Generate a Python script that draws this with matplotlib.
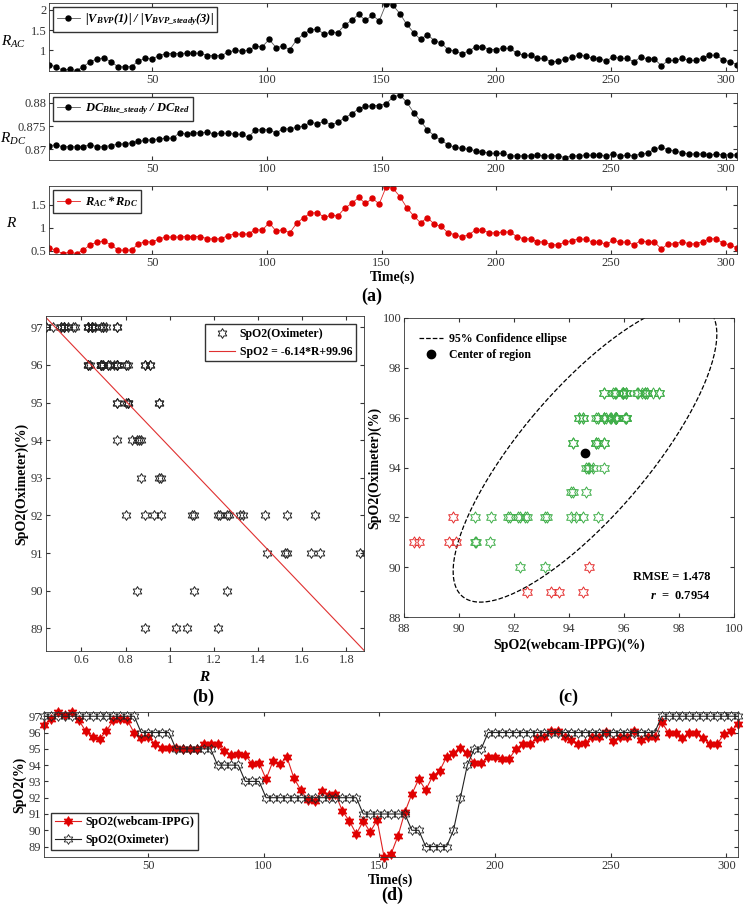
import numpy as np
import matplotlib
matplotlib.use("Agg")
import matplotlib.pyplot as plt
from matplotlib.path import Path

plt.rcParams["font.family"] = ["Liberation Serif", "DejaVu Serif"]
plt.rcParams["mathtext.fontset"] = "custom"
plt.rcParams["mathtext.rm"] = "Liberation Serif"
plt.rcParams["mathtext.it"] = "Liberation Serif:italic"
plt.rcParams["mathtext.bf"] = "Liberation Serif:bold:italic"
plt.rcParams["xtick.direction"] = "in"
plt.rcParams["ytick.direction"] = "in"
plt.rcParams["xtick.top"] = True
plt.rcParams["ytick.right"] = True
plt.rcParams["xtick.major.size"] = 3
plt.rcParams["ytick.major.size"] = 3
plt.rcParams["axes.linewidth"] = 0.6
plt.rcParams["axes.edgecolor"] = "#333333"
plt.rcParams["xtick.labelsize"] = 9
plt.rcParams["ytick.labelsize"] = 9
plt.rcParams["xtick.color"] = "#333333"
plt.rcParams["ytick.color"] = "#333333"

# time axis: one sample every 3 s
t_start, t_end, t_step = 5, 305, 3
time_s = np.arange(t_start, t_end + 1, t_step)

r_ac = [0.65, 0.59, 0.51, 0.54, 0.50, 0.60, 0.72, 0.79, 0.81, 0.72,
        0.60, 0.59, 0.60, 0.74, 0.80, 0.79, 0.87, 0.92, 0.92, 0.92,
        0.93, 0.93, 0.93, 0.87, 0.87, 0.87, 0.95, 1.00, 0.98, 1.00,
        1.10, 1.09, 1.27, 1.07, 1.10, 1.02, 1.26, 1.40, 1.51, 1.52,
        1.40, 1.45, 1.44, 1.63, 1.74, 1.89, 1.74, 1.87, 1.73, 2.15,
        2.11, 1.91, 1.64, 1.44, 1.27, 1.39, 1.24, 1.18, 1.02, 0.98,
        0.92, 0.98, 1.09, 1.09, 1.02, 1.02, 1.05, 1.05, 0.93, 0.88,
        0.88, 0.80, 0.80, 0.72, 0.73, 0.79, 0.83, 0.88, 0.86, 0.80,
        0.79, 0.74, 0.84, 0.80, 0.80, 0.72, 0.83, 0.79, 0.79, 0.62,
        0.75, 0.75, 0.80, 0.75, 0.75, 0.81, 0.88, 0.88, 0.76, 0.72,
        0.65]

r_dc = [0.8707, 0.8710, 0.8705, 0.8706, 0.8705, 0.8706, 0.8710, 0.8705, 0.8706, 0.8708,
        0.8711, 0.8712, 0.8714, 0.8717, 0.8719, 0.8721, 0.8722, 0.8724, 0.8724, 0.8736,
        0.8732, 0.8736, 0.8735, 0.8737, 0.8733, 0.8735, 0.8734, 0.8733, 0.8732, 0.8726,
        0.8742, 0.8742, 0.8742, 0.8735, 0.8744, 0.8744, 0.8747, 0.8750, 0.8758, 0.8755,
        0.8760, 0.8753, 0.8758, 0.8768, 0.8776, 0.8787, 0.8792, 0.8794, 0.8794, 0.8798,
        0.8812, 0.8817, 0.8801, 0.8779, 0.8761, 0.8742, 0.8729, 0.8719, 0.8710, 0.8704,
        0.8702, 0.8700, 0.8697, 0.8694, 0.8692, 0.8691, 0.8691, 0.8686, 0.8686, 0.8686,
        0.8686, 0.8688, 0.8686, 0.8686, 0.8686, 0.8682, 0.8686, 0.8686, 0.8688, 0.8687,
        0.8688, 0.8685, 0.8690, 0.8686, 0.8687, 0.8686, 0.8690, 0.8691, 0.8701, 0.8704,
        0.8699, 0.8696, 0.8693, 0.8690, 0.8690, 0.8690, 0.8687, 0.8690, 0.8688, 0.8688,
        0.8688]

r_ratio = [0.57, 0.51, 0.44, 0.47, 0.44, 0.52, 0.63, 0.69, 0.71, 0.63,
           0.52, 0.51, 0.52, 0.65, 0.70, 0.69, 0.76, 0.80, 0.80, 0.80,
           0.81, 0.81, 0.81, 0.76, 0.76, 0.76, 0.83, 0.87, 0.86, 0.87,
           0.96, 0.95, 1.11, 0.93, 0.96, 0.89, 1.10, 1.22, 1.32, 1.33,
           1.23, 1.27, 1.26, 1.43, 1.53, 1.66, 1.53, 1.64, 1.52, 1.89,
           1.86, 1.68, 1.44, 1.26, 1.11, 1.22, 1.08, 1.03, 0.89, 0.85,
           0.80, 0.85, 0.95, 0.95, 0.89, 0.89, 0.91, 0.91, 0.81, 0.76,
           0.76, 0.70, 0.69, 0.63, 0.63, 0.69, 0.72, 0.76, 0.75, 0.69,
           0.69, 0.64, 0.73, 0.69, 0.69, 0.63, 0.72, 0.69, 0.69, 0.54,
           0.65, 0.65, 0.70, 0.65, 0.65, 0.70, 0.76, 0.76, 0.66, 0.63,
           0.56]

spo2_webcam = [96.46, 96.83, 97.26, 97.07, 97.26, 96.77, 96.09, 95.72, 95.60, 96.09,
               96.77, 96.83, 96.77, 95.97, 95.66, 95.72, 95.29, 95.05, 95.05, 95.05,
               94.99, 94.99, 94.99, 95.29, 95.29, 95.29, 94.86, 94.62, 94.68, 94.62,
               94.07, 94.13, 93.14, 94.25, 94.07, 94.50, 93.21, 92.47, 91.86, 91.79,
               92.41, 92.16, 92.22, 91.18, 90.57, 89.77, 90.57, 89.89, 90.63, 88.36,
               88.54, 89.64, 91.12, 92.22, 93.14, 92.47, 93.33, 93.64, 94.50, 94.74,
               95.05, 94.74, 94.13, 94.13, 94.50, 94.50, 94.37, 94.37, 94.99, 95.29,
               95.29, 95.66, 95.72, 96.09, 96.09, 95.72, 95.54, 95.29, 95.35, 95.72,
               95.72, 96.03, 95.48, 95.72, 95.72, 96.09, 95.54, 95.72, 95.72, 96.64,
               95.97, 95.97, 95.66, 95.97, 95.97, 95.66, 95.29, 95.29, 95.91, 96.09,
               96.52]

spo2_oximeter = [97, 97, 97, 97, 97, 97, 97, 97, 97, 97,
                 97, 97, 97, 97, 96, 96, 96, 96, 96, 95,
                 95, 95, 95, 95, 95, 94, 94, 94, 94, 93,
                 93, 93, 92, 92, 92, 92, 92, 92, 92, 92,
                 92, 92, 92, 92, 92, 92, 91, 91, 91, 91,
                 91, 91, 91, 90, 90, 89, 89, 89, 89, 90,
                 92, 94, 95, 95, 96, 96, 96, 96, 96, 96,
                 96, 96, 96, 96, 96, 96, 96, 96, 96, 96,
                 96, 96, 96, 96, 96, 96, 96, 96, 96, 97,
                 97, 97, 97, 97, 97, 97, 97, 97, 97, 97,
                 97]

fit_slope = -6.14
fit_intercept = 99.96
rmse_text = "RMSE = 1.478"
r_text = "0.7954"

W, H = 744, 908
fig = plt.figure(figsize=(W / 100, H / 100), dpi=100)


def rect(left, top, right, bottom):
    return [left / W, 1 - bottom / H, (right - left) / W, (bottom - top) / H]


def px_to_axes_x(ax, px):
    x0 = ax.get_position().x0 * W
    w = ax.get_position().width * W
    return (px - x0) / w


hexagram = Path.unit_regular_star(6, 0.58)
bold = {"weight": "bold"}
small_leg = dict(frameon=True, fancybox=False, edgecolor="#333333", framealpha=1,
                 borderpad=0.3, handlelength=1.8, handletextpad=0.4)

# ---------- (a) three stacked time series ----------
ax1 = fig.add_axes(rect(49, 3, 737, 71))
ax1.plot(time_s, r_ac, "-", color="#555555", lw=0.6, marker="o", ms=3.6,
         mfc="k", mec="k", label=r"$\mathbf{|V_{BVP}(1)|\ /\ |V_{BVP\_steady}(3)|}$")
ax1.set_ylim(0.49, 2.17)
ax1.set_yticks([1, 1.5, 2])
ax1.set_yticklabels(["1", "1.5", "2"])
ax1.set_ylabel(r"$R_{AC}$", rotation=0, fontsize=11, va="center", ha="center")
ax1.yaxis.set_label_coords(px_to_axes_x(ax1, 14), 0.42)

ax2 = fig.add_axes(rect(49, 93, 737, 160))
ax2.plot(time_s, r_dc, "-", color="#555555", lw=0.6, marker="o", ms=3.6,
         mfc="k", mec="k", label=r"$\mathbf{DC_{Blue\_steady}\ /\ DC_{Red}}$")
ax2.set_ylim(0.8677, 0.8821)
ax2.set_yticks([0.87, 0.875, 0.88])
ax2.set_yticklabels(["0.87", "0.875", "0.88"])
ax2.set_ylabel(r"$R_{DC}$", rotation=0, fontsize=11, va="center", ha="center")
ax2.yaxis.set_label_coords(px_to_axes_x(ax2, 13), 0.32)

ax3 = fig.add_axes(rect(49, 186, 737, 254))
ax3.plot(time_s, r_ratio, "-", color="#e02020", lw=0.6, marker="o", ms=3.6,
         mfc="#e00000", mec="#e00000", label=r"$\mathbf{R_{AC}*R_{DC}}$")
ax3.set_ylim(0.43, 1.91)
ax3.set_yticks([0.5, 1, 1.5])
ax3.set_yticklabels(["0.5", "1", "1.5"])
ax3.set_ylabel(r"$R$", rotation=0, fontsize=11, va="center", ha="center")
ax3.yaxis.set_label_coords(px_to_axes_x(ax3, 12), 0.45)
ax3.set_xlabel("Time(s)", fontsize=10, fontdict=bold, labelpad=1)

for ax in (ax1, ax2, ax3):
    ax.set_xlim(t_start, t_end)
    ax.set_xticks([50, 100, 150, 200, 250, 300])
    ax.tick_params(pad=2)
    ax.legend(loc="upper left", fontsize=9, borderaxespad=0.35, **small_leg)

fig.text(0.5, 1 - 296 / H, "(a)", ha="center", va="center", fontsize=13, fontweight="bold")

# ---------- (b) R vs oximeter ----------
axb = fig.add_axes(rect(46, 316, 364, 651))
axb.plot(r_ratio, spo2_oximeter, ls="none", marker=hexagram, ms=7, mfc="none",
         mec="#222222", mew=0.7, label="SpO2(Oximeter)")
r_lo, r_hi = 0.44, 1.88
fit_x = np.array([r_lo, r_hi])
axb.plot(fit_x, fit_slope * fit_x + fit_intercept, color="#e03030", lw=0.8,
         label="SpO2 = -6.14*R+99.96")
axb.set_xlim(r_lo, r_hi)
axb.set_ylim(88.4, 97.3)
axb.set_xticks([0.6, 0.8, 1.0, 1.2, 1.4, 1.6, 1.8])
axb.set_xticklabels(["0.6", "0.8", "1", "1.2", "1.4", "1.6", "1.8"])
axb.set_yticks(range(89, 98))
axb.tick_params(pad=2)
axb.set_xlabel(r"$\mathbf{R}$", fontsize=11, labelpad=3)
axb.set_ylabel("SpO2(Oximeter)(%)", fontsize=10, fontdict=bold, labelpad=2)
b_leg = dict(small_leg)
b_leg["handlelength"] = 2.2
axb.legend(loc="upper right", prop={"weight": "bold", "size": 8.5},
           borderaxespad=0.7, **b_leg)
fig.text(203 / W, 1 - 697 / H, "(b)", ha="center", va="center", fontsize=13, fontweight="bold")

# ---------- (c) webcam vs oximeter ----------
axc = fig.add_axes(rect(404, 318, 734, 617))
web = np.array(spo2_webcam)
oxi = np.array(spo2_oximeter, dtype=float)
center = np.array([web.mean(), oxi.mean()])
cov = np.cov(np.vstack([web, oxi]))
chi2_95 = 5.991
inv_cov = np.linalg.inv(cov)
diff = np.vstack([web, oxi]).T - center
d2 = np.einsum("ij,jk,ik->i", diff, inv_cov, diff)
inside = d2 <= chi2_95

vals, vecs = np.linalg.eigh(cov)
theta = np.linspace(0, 2 * np.pi, 200)
circle = np.vstack([np.cos(theta), np.sin(theta)])
ell = vecs @ (np.sqrt(vals * chi2_95)[:, None] * circle) + center[:, None]

axc.plot(ell[0], ell[1], "--", color="k", lw=0.9, label="95% Confidence ellipse")
axc.plot(center[0], center[1], "o", color="k", ms=6, ls="none", label="Center of region")
axc.plot(web[inside], oxi[inside], ls="none", marker=hexagram, ms=8, mfc="none",
         mec="#3fae49", mew=0.7)
axc.plot(web[~inside], oxi[~inside], ls="none", marker=hexagram, ms=8, mfc="none",
         mec="#e53030", mew=0.7)
axc.set_xlim(88, 100)
axc.set_ylim(88, 100)
axc.set_xticks(range(88, 101, 2))
axc.set_yticks(range(88, 101, 2))
axc.tick_params(axis="y", pad=2)
axc.tick_params(axis="x", pad=4)
axc.set_xlabel("SpO2(webcam-IPPG)(%)", fontsize=10, fontdict=bold, labelpad=3)
axc.set_ylabel("SpO2(Oximeter)(%)", fontsize=10, fontdict=bold, labelpad=1)
axc.legend(loc="upper left", frameon=False, prop={"weight": "bold", "size": 8.5},
           handlelength=2.0, handletextpad=0.5, borderaxespad=0.9, labelspacing=0.3)
axc.text(0.93, 0.135, rmse_text, transform=axc.transAxes, ha="right", va="center",
         fontsize=9, fontweight="bold")
axc.text(0.93, 0.07, r"$\mathbf{r}$" + "  =  " + r_text, transform=axc.transAxes,
         ha="right", va="center", fontsize=9, fontweight="bold")
fig.text(568 / W, 1 - 697 / H, "(c)", ha="center", va="center", fontsize=13, fontweight="bold")

# ---------- (d) SpO2 time series ----------
axd = fig.add_axes(rect(44, 712, 738, 857))
axd.plot(time_s, spo2_webcam, "-", color="#e02020", lw=0.8, marker=hexagram, ms=7,
         mfc="#e00000", mec="#e00000", mew=0.6, label="SpO2(webcam-IPPG)", clip_on=False)
axd.plot(time_s, spo2_oximeter, "-", color="#222222", lw=0.8, marker=hexagram, ms=7,
         mfc="none", mec="#222222", mew=0.6, label="SpO2(Oximeter)", clip_on=False)
axd.set_xlim(t_start, t_end)
axd.set_ylim(88.36, 97.26)
axd.set_xticks([50, 100, 150, 200, 250, 300])
axd.set_yticks(range(89, 98))
axd.tick_params(pad=2)
axd.set_xlabel("Time(s)", fontsize=10, fontdict=bold, labelpad=1)
axd.set_ylabel("SpO2(%)", fontsize=10, fontdict=bold, labelpad=2)
d_leg = dict(small_leg)
d_leg["handlelength"] = 2.2
axd.legend(loc="lower left", prop={"weight": "bold", "size": 8.5},
           borderaxespad=0.6, **d_leg)
fig.text(392 / W, 1 - 895 / H, "(d)", ha="center", va="center", fontsize=13, fontweight="bold")

fig.savefig("out.png", dpi=100)
